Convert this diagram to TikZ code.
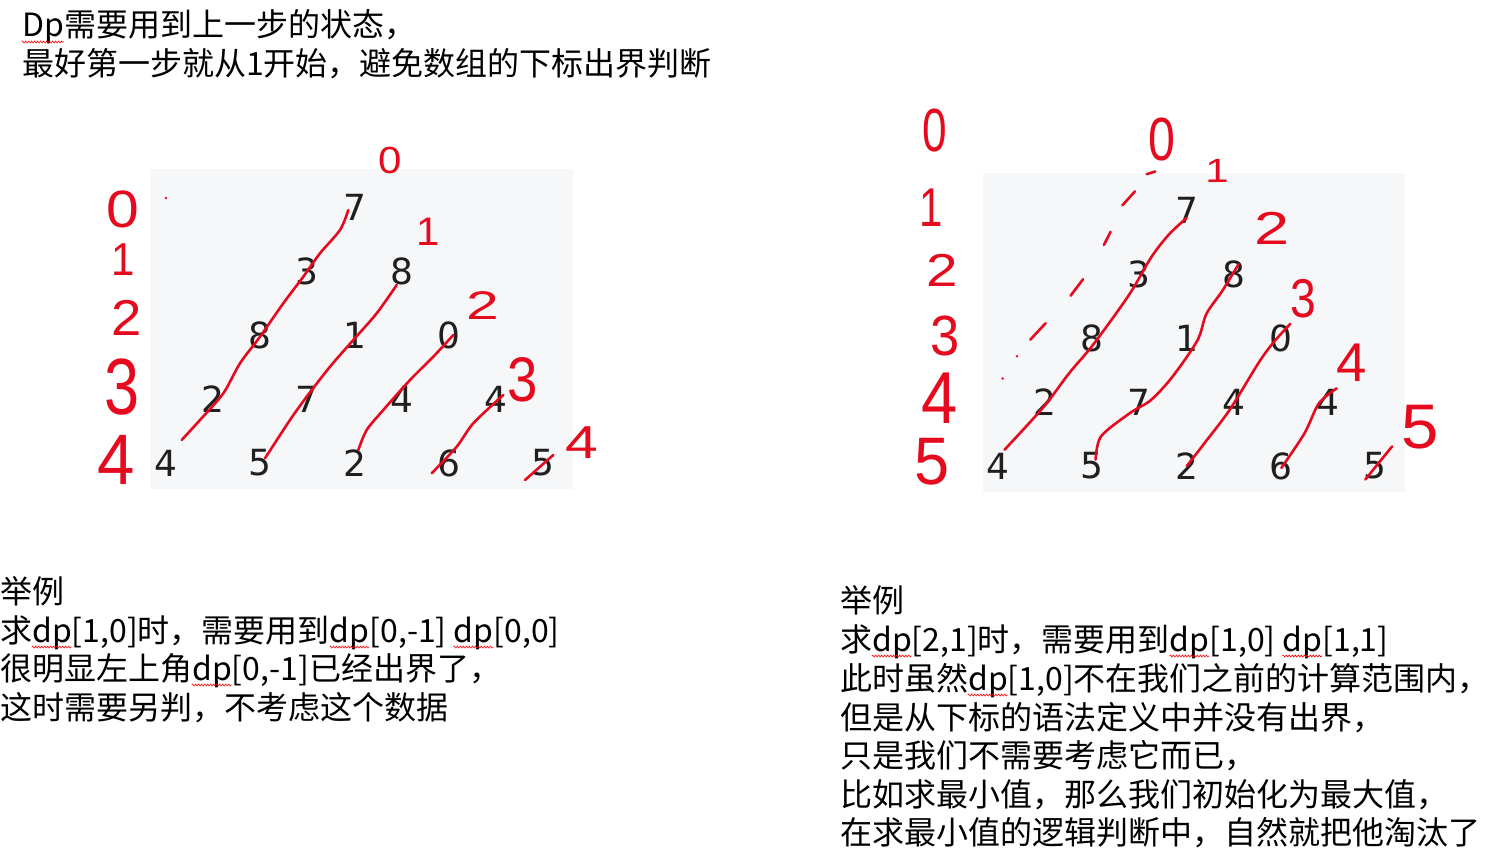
\documentclass[tikz,border=0pt]{standalone}
\usepackage{fontspec}
\usepackage{graphicx}
\usetikzlibrary{decorations.pathmorphing}
\setmainfont{Noto Sans CJK SC}
\newfontfamily\numfont{DejaVu Sans}
\newfontfamily\hand{Liberation Sans}
\definecolor{ink}{RGB}{230,10,30}
\definecolor{boxgray}{RGB}{246,247,249}
\newsavebox\sqbox
\newlength\sqlen
\newcommand\sq[1]{\sbox\sqbox{#1}\setlength\sqlen{\wd\sqbox}\usebox\sqbox\llap{\raisebox{-5pt}[0pt][0pt]{\tikz[x=1pt,y=1pt,baseline=0pt]\draw[red,line width=0.6pt,decorate,decoration={zigzag,amplitude=1pt,segment length=3pt}] (0,0) -- (\sqlen,0);}}}
\newcommand\hd[3]{\scalebox{#1}[#2]{#3}}
\tikzset{
  txt/.style={anchor=base west, inner sep=0pt, font=\fontsize{32}{38}\selectfont},
  num/.style={inner sep=0pt, font=\numfont\fontsize{36}{36}\selectfont, text=black!88},
  hw/.style={inner sep=0pt, text=ink, font=\hand\fontsize{42}{42}\selectfont},
  stroke/.style={draw=ink, line width=2.6pt, line cap=round, line join=round},
  panel/.style={fill=boxgray, draw=none}
}
\begin{document}
\begin{tikzpicture}[x=1pt,y=-1pt]
\useasboundingbox[fill=white] (0,0) rectangle (1500,856);

% header text
\node[txt] (t1) at (22,37) {\sq{Dp}需要用到上一步的状态，};
\node[txt] (t2) at (22,76) {最好第一步就从1开始，避免数组的下标出界判断};

% panels
\path[panel] (150,169) rectangle (573,489);
\path[panel] (983,173) rectangle (1405,492);

% numbers
\foreach \r/\vals in {0/{7},1/{3,8},2/{8,1,0},3/{2,7,4,4},4/{4,5,2,6,5}} {
  \foreach \v [count=\c from 0] in \vals {
    \node[num] (L\r\c) at ({166+94.25*(\c+(4-\r)/2)}, {207+64*\r}) {\v};
    \node[num] (R\r\c) at ({998+94.25*(\c+(4-\r)/2)}, {210+64*\r}) {\v};
  }
}

% left red strokes
\draw[stroke] plot[smooth] coordinates {(181.7,440) (200,420) (223.3,393.3) (240,363.3) (260,336.7) (283.3,303.3) (303.3,276.7) (320,253.3) (340,230) (348.3,210)};
\draw[stroke] plot[smooth] coordinates {(265,458.3) (290,420) (306.7,396.7) (330,366.7) (353.3,340) (376.7,313.3) (396.7,285)};
\draw[stroke] plot[smooth] coordinates {(358.3,450) (366.7,430) (383.3,410) (410,380) (433.3,356.7) (453.3,335)};
\draw[stroke] plot[smooth] coordinates {(431.7,473.3) (456.7,446.7) (473.3,423.3) (503.3,395)};
\draw[stroke] (525,480) -- (553.3,455);
\fill[ink] (166,198) circle (1.4);

% left handwritten indices
\node[hw] (la0) at (123,209) {\hd{1.4}{1.25}{0}};
\node[hw] (la1) at (123,260) {\hd{1}{1.1}{1}};
\node[hw] (la2) at (127,318) {\hd{1.3}{1.2}{2}};
\node[hw] (la3) at (122,387) {\hd{1.5}{1.9}{3}};
\node[hw] (la4) at (116,460) {\hd{1.6}{1.7}{4}};
\node[hw] (lb0) at (390,160) {\hd{1}{0.9}{0}};
\node[hw] (lb1) at (428,232) {\hd{1}{0.95}{1}};
\node[hw] (lb2) at (483,306) {\hd{1.4}{0.95}{2}};
\node[hw] (lb3) at (523,380) {\hd{1.3}{1.5}{3}};
\node[hw] (lb4) at (582,443) {\hd{1.4}{1.1}{4}};

% right red strokes
\draw[stroke] plot[smooth] coordinates {(1004.6,449.7) (1043.9,406.6) (1068.9,373.5) (1093.9,343.7) (1129.6,294) (1151,257.6) (1168.9,234.5) (1186.7,217.9)};
\draw[stroke] plot[smooth] coordinates {(1095.6,459.6) (1101,436.4) (1129.6,413.3) (1151,400) (1172.4,376.8) (1197.4,340.4) (1206.4,313.9) (1222.4,290.7) (1238.5,264.3)};
\draw[stroke] plot[smooth] coordinates {(1186.7,466.2) (1204.6,443) (1229.6,409.9) (1258.1,363.6) (1272.4,343.7) (1290.3,323.8)};
\draw[stroke] plot[smooth] coordinates {(1281.4,467.9) (1304.6,433.1) (1318.9,403.3) (1336.7,388.4)};
\draw[stroke] (1365.3,479.5) -- (1392.1,446.4);
% dashed guide
\draw[stroke] (1146.7,174.2) -- (1155.3,171.5);
\draw[stroke] (1122.4,205.3) -- (1134.9,191.4);
\draw[stroke] (1103.9,245) -- (1110.6,231.8);
\draw[stroke] (1070.6,295.7) -- (1083.1,279.2);
\draw[stroke] (1030.3,339.7) -- (1045.6,323.2);
\fill[ink] (1017,356.3) circle (1.4);
\fill[ink] (1002.8,378.5) circle (1.4);

% right handwritten indices
\node[hw] (ra0) at (935,131) {\hd{1.05}{1.45}{0}};
\node[hw] (ra1) at (931,208) {\hd{1}{1.3}{1}};
\node[hw] (ra2) at (942,270) {\hd{1.35}{1.1}{2}};
\node[hw] (ra3) at (945,336) {\hd{1.25}{1.35}{3}};
\node[hw] (ra4) at (940,398) {\hd{1.55}{1.75}{4}};
\node[hw] (ra5) at (932,462) {\hd{1.5}{1.6}{5}};
\node[hw] (rb0) at (1162,140) {\hd{1.15}{1.45}{0}};
\node[hw] (rb1) at (1217,171) {\hd{1}{0.8}{1}};
\node[hw] (rb2) at (1272,228) {\hd{1.5}{1.1}{2}};
\node[hw] (rb3) at (1303,299) {\hd{1.1}{1.3}{3}};
\node[hw] (rb4) at (1352,363) {\hd{1.3}{1.3}{4}};
\node[hw] (rb5) at (1420,427) {\hd{1.6}{1.5}{5}};

% left caption
\node[txt] (l1) at (0,603) {举例};
\node[txt] (l2) at (0,642) {求\sq{dp}[1,0]时，需要用到\sq{dp}[0,-1] \sq{dp}[0,0]};
\node[txt] (l3) at (0,680) {很明显左上角\sq{dp}[0,-1]已经出界了，};
\node[txt] (l4) at (0,719) {这时需要另判，不考虑这个数据};

% right caption
\node[txt] (r1) at (840,612) {举例};
\node[txt] (r2) at (840,651) {求\sq{dp}[2,1]时，需要用到\sq{dp}[1,0] \sq{dp}[1,1]};
\node[txt] (r3) at (840,690) {此时虽然\sq{dp}[1,0]不在我们之前的计算范围内，};
\node[txt] (r4) at (840,729) {但是从下标的语法定义中并没有出界，};
\node[txt] (r5) at (840,767) {只是我们不需要考虑它而已，};
\node[txt] (r6) at (840,806) {比如求最小值，那么我们初始化为最大值，};
\node[txt] (r7) at (840,844) {在求最小值的逻辑判断中，自然就把他淘汰了};
\end{tikzpicture}
\end{document}
